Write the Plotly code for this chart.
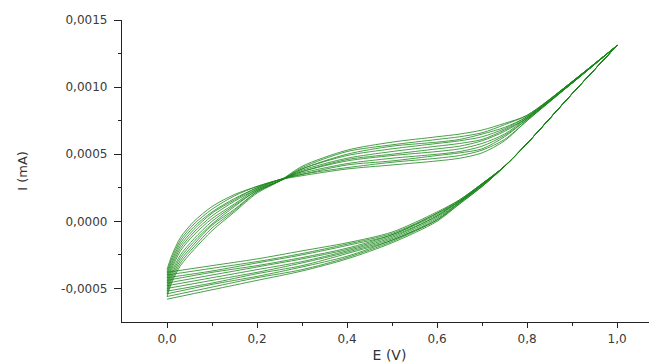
import plotly.graph_objects as go

# Potential grids (V)
E_anodic = [0.0, 0.01, 0.03, 0.06, 0.10, 0.15, 0.20, 0.25, 0.30, 0.40, 0.50, 0.60, 0.65, 0.70, 0.75, 0.80, 0.90, 1.0]
E_cathodic = [1.0, 0.9, 0.8, 0.75, 0.7, 0.65, 0.6, 0.5, 0.4, 0.3, 0.2, 0.1, 0.0]

# Current values (mA), one row per cycle, read in units of 1e-5 mA
I_anodic_e5 = [
    [-36, -26, -12,   0,  11, 20, 26, 31, 34, 39, 42, 45, 47, 51, 60, 75, 103, 131],
    [-38, -28, -14,  -2,   9, 19, 26, 31, 35, 40, 44, 47, 49, 53, 61, 75, 103, 131],
    [-40, -30, -16,  -4,   7, 17, 25, 31, 35, 42, 45, 49, 51, 54, 63, 76, 103, 131],
    [-42, -32, -18,  -6,   6, 16, 25, 31, 36, 43, 47, 50, 52, 56, 64, 76, 103, 131],
    [-44, -34, -20,  -8,   4, 15, 24, 31, 37, 45, 49, 52, 54, 58, 65, 77, 103, 131],
    [-46, -36, -22, -10,   2, 13, 24, 30, 37, 46, 50, 54, 56, 60, 67, 77, 103, 131],
    [-48, -38, -25, -13,   0, 12, 23, 30, 38, 47, 52, 56, 58, 61, 68, 77, 104, 131],
    [-50, -40, -27, -15,  -2, 11, 23, 30, 39, 49, 54, 58, 60, 63, 69, 78, 104, 131],
    [-52, -42, -29, -17,  -3,  9, 22, 30, 39, 50, 56, 59, 61, 65, 70, 78, 104, 131],
    [-54, -44, -31, -19,  -5,  8, 22, 30, 40, 52, 57, 61, 63, 66, 72, 79, 104, 131],
    [-56, -46, -33, -21,  -7,  7, 21, 30, 41, 53, 59, 63, 65, 68, 73, 79, 104, 131],
]
I_cathodic_e5 = [
    [131, 95, 58, 41, 28, 16, 7,  -8, -16, -22, -28, -33, -38],
    [131, 95, 58, 41, 28, 16, 6,  -9, -17, -24, -30, -35, -40],
    [131, 95, 58, 41, 28, 15, 6, -10, -18, -25, -31, -37, -42],
    [131, 95, 58, 41, 28, 15, 5, -10, -20, -27, -33, -38, -44],
    [131, 95, 58, 41, 27, 15, 4, -11, -21, -28, -34, -40, -46],
    [131, 95, 58, 41, 27, 15, 4, -12, -22, -30, -36, -42, -48],
    [131, 95, 58, 41, 27, 14, 3, -13, -23, -31, -38, -44, -50],
    [131, 95, 58, 41, 27, 14, 2, -14, -24, -33, -39, -46, -52],
    [131, 95, 58, 41, 26, 14, 1, -14, -26, -34, -41, -47, -54],
    [131, 95, 58, 41, 26, 13, 1, -15, -27, -36, -42, -49, -56],
    [131, 95, 58, 41, 26, 13, 0, -16, -28, -37, -44, -51, -58],
]
UNIT = 1e-5

x_tickvals = [0.0, 0.2, 0.4, 0.6, 0.8, 1.0]
x_ticktext = ["0,0", "0,2", "0,4", "0,6", "0,8", "1,0"]
y_tickvals = [-0.0005, 0.0, 0.0005, 0.0010, 0.0015]
y_ticktext = ["-0,0005", "0,0000", "0,0005", "0,0010", "0,0015"]

LINE = dict(color="rgb(26,134,26)", width=0.8, shape="spline", smoothing=0.8)

fig = go.Figure()
for a_row, c_row in zip(I_anodic_e5, I_cathodic_e5):
    fig.add_trace(go.Scatter(x=E_anodic, y=[v * UNIT for v in a_row], mode="lines",
                             line=LINE, showlegend=False, hoverinfo="skip"))
    fig.add_trace(go.Scatter(x=E_cathodic, y=[v * UNIT for v in c_row], mode="lines",
                             line=LINE, showlegend=False, hoverinfo="skip"))

FAM = "DejaVu Sans, Verdana, sans-serif"
fig.update_layout(
    width=649, height=356,
    margin=dict(l=114, r=0, t=12, b=42),
    paper_bgcolor="white", plot_bgcolor="white",
    font=dict(family=FAM, size=12, color="#3a3a3a"),
    xaxis=dict(
        range=[-0.1, 1.0887], showgrid=False, zeroline=False,
        showline=True, linecolor="#222", linewidth=1.3,
        ticks="outside", ticklen=5, tickwidth=1.3, tickcolor="#222",
        tickvals=x_tickvals, ticktext=x_ticktext,
        minor=dict(tickvals=[0.1, 0.3, 0.5, 0.7, 0.9], ticks="outside", ticklen=3, tickcolor="#222", tickwidth=1.2),
        title=dict(text="E (V)", font=dict(family=FAM, size=14, color="#333"), standoff=5),
    ),
    yaxis=dict(
        range=[-0.00075, 0.0015], showgrid=False, zeroline=False,
        showline=True, linecolor="#222", linewidth=1.3,
        ticks="outside", ticklen=7, tickwidth=1.3, tickcolor="#222",
        tickvals=y_tickvals, ticktext=y_ticktext, ticklabelstandoff=4,
        minor=dict(tickvals=[-0.00025, 0.00025, 0.00075, 0.00125], ticks="outside", ticklen=3, tickcolor="#222", tickwidth=1.2),
        title=dict(text="I (mA)", font=dict(family=FAM, size=13, color="#333"), standoff=30),
    ),
)

fig.write_html("out.html")
